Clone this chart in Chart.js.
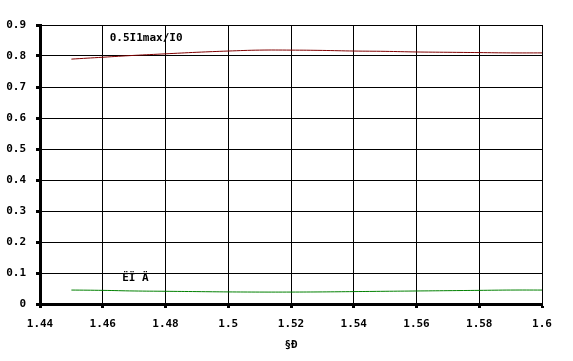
<!DOCTYPE html>
<html>
<head>
<meta charset="utf-8">
<script src="https://cdn.jsdelivr.net/npm/chart.js@4"></script>
<style>
  html, body { margin: 0; padding: 0; background: #fff; }
  #wrap { width: 573px; height: 361px; }
</style>
</head>
<body>
<div id="wrap"><canvas id="chart" width="573" height="361"></canvas></div>
<script>
// data
var xValues = [1.45, 1.46, 1.47, 1.48, 1.49, 1.5, 1.51, 1.52, 1.53, 1.54, 1.55, 1.56, 1.57, 1.58, 1.59, 1.6];
var ratioValues = [0.790, 0.796, 0.802, 0.807, 0.812, 0.816, 0.819, 0.819, 0.818, 0.816, 0.815, 0.813, 0.812, 0.811, 0.810, 0.810];
var currentValues = [0.045, 0.044, 0.042, 0.041, 0.040, 0.039, 0.0385, 0.0385, 0.039, 0.040, 0.041, 0.042, 0.043, 0.044, 0.045, 0.045];
var xTicks = [1.44, 1.46, 1.48, 1.5, 1.52, 1.54, 1.56, 1.58, 1.6];
var yTicks = [0, 0.1, 0.2, 0.3, 0.4, 0.5, 0.6, 0.7, 0.8, 0.9];
var ratioLabel = '0.5I1max/I0';
var currentLabel = 'ËÏ Ä';
var xTitle = '§Ð';

var monoFont = { family: 'DejaVu Sans Mono', size: 11, weight: 'bold' };

function toPoints(values) {
    return xValues.map(function(x, i) { return { x: x, y: values[i] }; });
}

// labels inside the plot, anchored to data coordinates
var notes = [
    { text: ratioLabel, x: 1.4622, y: 0.859 },
    { text: currentLabel, x: 1.4662, y: 0.085 }
];

var notePlugin = {
    id: 'notes',
    afterDatasetsDraw: function(chart) {
        var c = chart.ctx;
        var xs = chart.scales.x, ys = chart.scales.y;
        c.save();
        c.fillStyle = '#000';
        c.font = 'bold 11px "DejaVu Sans Mono"';
        c.textAlign = 'left';
        c.textBaseline = 'middle';
        notes.forEach(function(n) {
            c.fillText(n.text, xs.getPixelForValue(n.x), ys.getPixelForValue(n.y));
        });
        c.restore();
    }
};

new Chart(document.getElementById('chart').getContext('2d'), {
    type: 'line',
    data: {
        datasets: [{
            label: ratioLabel,
            data: toPoints(ratioValues),
            borderColor: '#800000',
            borderWidth: 1,
            pointRadius: 0,
            tension: 0.4
        }, {
            label: currentLabel,
            data: toPoints(currentValues),
            borderColor: '#008000',
            borderWidth: 1,
            pointRadius: 0,
            tension: 0.4
        }]
    },
    options: {
        responsive: false,
        animation: false,
        layout: { padding: { top: 25, right: 31, left: 0, bottom: 0 } },
        plugins: {
            legend: { display: false },
            tooltip: { enabled: false }
        },
        scales: {
            x: {
                type: 'linear',
                min: 1.44,
                max: 1.6,
                afterBuildTicks: function(scale) {
                    scale.ticks = xTicks.map(function(v) { return { value: v }; });
                },
                afterFit: function(scale) { scale.height = 57; },
                ticks: {
                    color: '#000',
                    font: monoFont,
                    padding: 10,
                    maxRotation: 0,
                    autoSkip: false,
                    callback: function(v) { return String(v); }
                },
                grid: {
                    color: '#000',
                    lineWidth: 1,
                    tickLength: 4,
                    tickWidth: 3,
                    tickColor: '#000'
                },
                border: { color: '#000', width: 3 },
                title: {
                    display: true,
                    text: xTitle,
                    color: '#000',
                    font: monoFont,
                    padding: { top: 4, bottom: 9 }
                }
            },
            y: {
                min: 0,
                max: 0.9,
                afterBuildTicks: function(scale) {
                    scale.ticks = yTicks.map(function(v) { return { value: v }; });
                },
                afterFit: function(scale) { scale.width = 40; },
                ticks: {
                    color: '#000',
                    font: monoFont,
                    padding: 10,
                    autoSkip: false,
                    callback: function(v) { return String(v); }
                },
                grid: {
                    color: '#000',
                    lineWidth: 1,
                    tickLength: 4,
                    tickWidth: 3,
                    tickColor: '#000'
                },
                border: { color: '#000', width: 3 }
            }
        }
    },
    plugins: [notePlugin]
});
</script>
</body>
</html>
